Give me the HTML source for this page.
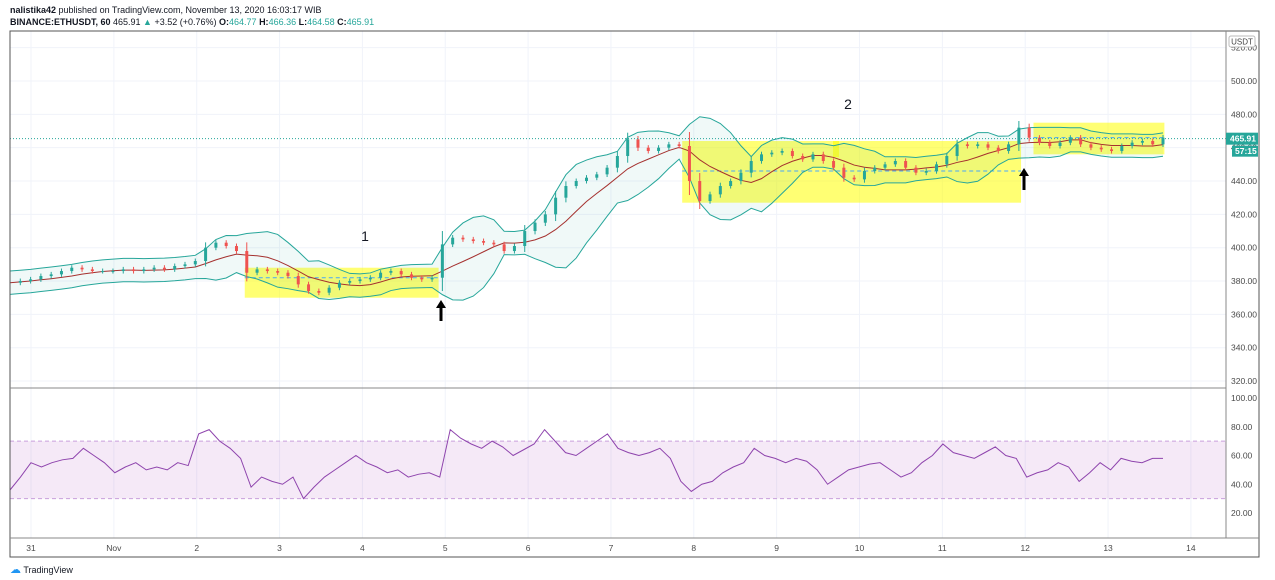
<!DOCTYPE html>
<html><head><meta charset="utf-8"><style>
body{margin:0;width:1275px;height:580px;background:#fff;font-family:"Liberation Sans",sans-serif;overflow:hidden;position:relative}
.hdr{position:absolute;left:10px;font-size:9px;color:#131722;white-space:nowrap}
.g{color:#26a69a}
</style></head><body>
<div class="hdr" style="top:5px"><b>nalistika42</b> published on TradingView.com, November 13, 2020 16:03:17 WIB</div>
<div class="hdr" style="top:17px"><b>BINANCE:ETHUSDT, 60</b> 465.91 <span class="g">▲</span> +3.52 (+0.76%) <b>O:</b><span class="g">464.77</span> <b>H:</b><span class="g">466.36</span> <b>L:</b><span class="g">464.58</span> <b>C:</b><span class="g">465.91</span></div>
<svg id="c" width="1275" height="580" style="position:absolute;left:0;top:0"></svg>
<div style="position:absolute;left:10px;top:563px;font-size:9px;color:#131722"><span style="color:#2196f3;font-size:11px">☁</span> TradingView</div>
<script>
const closes=[379,380,
381,383,384,386,388,387,386,386,
386,387,386,387,388,387,389,390,
392,400,403,401,398,385,387,386,
385,383,378,374,373,376,379,380,
381,382,385,386,384,382,381,382,
402,406,405,404,403,402,398,401,
410,415,420,430,437,440,442,444,
448,455,465,460,458,460,462,461,
440,428,432,437,440,445,452,456,
457,458,455,453,456,452,448,442,
441,446,448,450,452,448,445,446,
450,455,462,461,462,460,458,462,
472,466,463,461,463,466,462,460,
459,458,461,463,464,462,466];
const rsi=[36,45,55,52,55,57,58,65,60,55,48,52,55,50,52,50,55,53,
75,78,70,65,58,38,45,42,40,45,30,38,45,50,55,60,55,52,48,50,45,47,48,45,
78,72,68,65,70,66,60,64,68,78,70,62,60,65,70,75,65,62,60,62,65,58,
42,35,40,42,48,52,55,65,60,58,55,58,56,50,40,45,50,52,54,55,50,45,48,55,
60,68,62,60,58,62,66,60,58,45,48,50,55,52,42,48,55,50,58,56,55,58,58];
const priceTicks=[320,340,360,380,400,420,440,460,480,500,520];
const rsiTicks=[20,40,60,80,100];
const dayLabels=['31','Nov','2','3','4','5','6','7','8','9','10','11','12','13','14'];
const boxes=[[2.58,4.92,370,388,382],[7.86,11.95,427,464,446],[12.1,13.68,456,475,466]];
const svg=document.getElementById('c');const NS='http://www.w3.org/2000/svg';
function mk(t,a,p){const e=document.createElementNS(NS,t);for(const k in a)e.setAttribute(k,a[k]);(p||svg).appendChild(e);return e;}
const L=10,R=1226,PT=31,PB=388,RB=538,B=557;
const step=(1163-L)/(closes.length-1);
const xi=i=>L+i*step;
const xd=d=>31+d*82.85;
const yp=p=>81+(500-p)*1.667;
const yr=v=>398+(100-v)*1.4375;
for(let d=0;d<dayLabels.length;d++){const l=mk('line',{x1:xd(d),x2:xd(d),y1:PT,y2:RB,stroke:'#f0f3fa'});}
priceTicks.forEach(p=>{const l=mk('line',{x1:L,x2:R,y1:yp(p),y2:yp(p),stroke:'#f0f3fa'});});
boxes.forEach(b=>{const r=mk('rect',{x:xd(b[0]),y:yp(b[3]),width:xd(b[1])-xd(b[0]),height:yp(b[2])-yp(b[3]),fill:'#ffff00',opacity:0.55});
const d=mk('line',{x1:xd(b[0]),x2:xd(b[1]),y1:yp(b[4]),y2:yp(b[4]),stroke:'#4aa8ff','stroke-dasharray':'4 3'});});
const sb=mk('rect',{x:xd(9.68),y:yp(464),width:6,height:16,fill:'#ffff00',opacity:0.6});
const W=7,up=[],lo=[],mid=[];
for(let i=0;i<closes.length;i++){const s=closes.slice(Math.max(0,i-W+1),i+1);const m=s.reduce((a,b)=>a+b,0)/s.length;const sd=Math.sqrt(s.reduce((a,b)=>a+(b-m)**2,0)/s.length);const w=Math.max(2.1*sd,7);mid.push(m);up.push(m+w);lo.push(m-w);}
let fp='';up.forEach((v,i)=>fp+=(i?'L':'M')+xi(i)+' '+yp(v));for(let i=lo.length-1;i>=0;i--)fp+='L'+xi(i)+' '+yp(lo[i]);
const bf=mk('path',{d:fp+'Z',fill:'#26a69a',opacity:0.07});
[[up,'#26a69a','bb-upper'],[lo,'#26a69a','bb-lower'],[mid,'#a5312f','bb-basis']].forEach(([a,c,n])=>{const p=mk('polyline',{points:a.map((v,i)=>xi(i)+','+yp(v)).join(' '),fill:'none',stroke:c,'stroke-width':1});});
for(let i=1;i<closes.length;i++){const o=closes[i-1],c=closes[i];const col=c>=o?'#26a69a':'#ef5350';const wk=Math.max(Math.abs(c-o)*0.4,1.5);
const g=mk('g',{});
mk('line',{x1:xi(i),x2:xi(i),y1:yp(Math.max(o,c)+wk),y2:yp(Math.min(o,c)-wk),stroke:col},g);
mk('rect',{x:xi(i)-1.5,y:yp(Math.max(o,c)),width:3,height:Math.max(1,Math.abs(yp(o)-yp(c))),fill:col},g);}
const last=closes[closes.length-1];
const cp=mk('line',{x1:L,x2:R,y1:yp(last)+1,y2:yp(last)+1,stroke:'#26a69a','stroke-dasharray':'1 2'});
[['1',365,241],['2',848,109]].forEach(([t,x,y])=>{const e=mk('text',{x:x,y:y,'font-size':14,fill:'#131722','text-anchor':'middle'});e.textContent=t;});
[[441,300,321],[1024,168,190]].forEach(([x,y1,y2])=>{const g=mk('g',{});
mk('line',{x1:x,x2:x,y1:y1+6,y2:y2,stroke:'#000','stroke-width':3},g);mk('path',{d:`M${x-5} ${y1+8}L${x} ${y1}L${x+5} ${y1+8}Z`,fill:'#000'},g);});
const rb=mk('rect',{x:L,y:yr(70),width:R-L,height:yr(30)-yr(70),fill:'#9c27b0',opacity:0.1});
[70,30].forEach(v=>{const l=mk('line',{x1:L,x2:R,y1:yr(v),y2:yr(v),stroke:'#c9a0dc','stroke-dasharray':'4 3'});});
const rl=mk('polyline',{points:rsi.map((v,i)=>(L+i*(1163-L)/(rsi.length-1))+','+yr(v)).join(' '),fill:'none',stroke:'#8e44ad','stroke-width':1});
const fr=mk('rect',{x:L,y:PT,width:1249,height:B-PT,fill:'none',stroke:'#555'});
[[L,R,PB,PB],[L,1259,RB,RB],[R,R,PT,RB]].forEach(([a,b,c,d])=>{const l=mk('line',{x1:a,x2:b,y1:c,y2:d,stroke:'#888'});});
priceTicks.forEach(p=>{const t=mk('text',{x:1231,y:yp(p)+3,'font-size':8.5,fill:'#4a4a4a'});t.textContent=p.toFixed(2);});
rsiTicks.forEach(v=>{const t=mk('text',{x:1231,y:yr(v)+3,'font-size':8.5,fill:'#4a4a4a'});t.textContent=v.toFixed(2);});
dayLabels.forEach((d,i)=>{const t=mk('text',{x:xd(i),y:551,'font-size':8.5,fill:'#4a4a4a','text-anchor':'middle'});t.textContent=d;});
const ub=mk('rect',{x:1229,y:36,width:26,height:11,rx:2,fill:'#fff',stroke:'#bbb'});
const ut=mk('text',{x:1242,y:44.5,'font-size':8,fill:'#444','text-anchor':'middle'});ut.textContent='USDT';
const pl=mk('rect',{x:1226,y:yp(last)-5,width:32,height:12,fill:'#26a69a'});
const pt=mk('text',{x:1230,y:yp(last)+4,'font-size':8.5,fill:'#fff','font-weight':'bold'});pt.textContent='465.91';
const cl=mk('rect',{x:1232,y:yp(last)+8,width:26,height:11,fill:'#26a69a'});
const ct=mk('text',{x:1235,y:yp(last)+16.5,'font-size':8.5,fill:'#fff','font-weight':'bold'});ct.textContent='57:15';
</script>
</body></html>
